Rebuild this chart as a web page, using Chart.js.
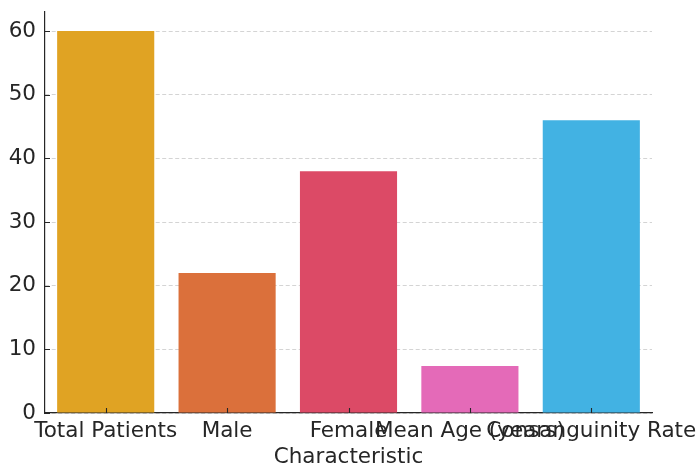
<!DOCTYPE html>
<html>
<head>
<meta charset="utf-8">
<script src="https://cdn.jsdelivr.net/npm/chart.js@4/dist/chart.umd.min.js"></script>
<style>
  html, body { margin: 0; padding: 0; background: #fff; }
  #wrap { width: 700px; height: 468px; }
</style>
</head>
<body>
<div id="wrap"><canvas id="c" width="700" height="468"></canvas></div>
<script>
// Patient cohort characteristics
const categories = ['Total Patients', 'Male', 'Female', 'Mean Age (years)', 'Consanguinity Rate'];
const values = [60, 22, 38, 7.4, 46];
const barColors = ['#E0A323', '#DB703B', '#DC4A66', '#E46AB8', '#42B2E3'];
const yTicks = [0, 10, 20, 30, 40, 50, 60];

const FONT = 'DejaVu Sans';
const INK = '#262626';
const FS = 21.5;

// Short tick marks pointing into the plot area
const innerTicks = {
  id: 'innerTicks',
  afterDatasetsDraw(chart) {
    const { ctx, chartArea, scales } = chart;
    ctx.save();
    ctx.strokeStyle = INK;
    ctx.lineWidth = 1.1;
    ctx.beginPath();
    scales.y.ticks.forEach(t => {
      const y = Math.round(scales.y.getPixelForValue(t.value)) + 0.5;
      ctx.moveTo(chartArea.left, y);
      ctx.lineTo(chartArea.left + 5, y);
    });
    categories.forEach((_, i) => {
      const x = Math.round(scales.x.getPixelForValue(i)) + 0.5;
      ctx.moveTo(x, chartArea.bottom);
      ctx.lineTo(x, chartArea.bottom - 5);
    });
    ctx.stroke();
    ctx.restore();
  }
};

new Chart(document.getElementById('c'), {
  type: 'bar',
  data: {
    labels: categories,
    datasets: [{
      data: values,
      backgroundColor: barColors,
      borderWidth: 0,
      barPercentage: 0.8,
      categoryPercentage: 1.0
    }]
  },
  options: {
    responsive: false,
    animation: false,
    devicePixelRatio: 1,
    layout: { padding: { top: 12, right: 48, left: 0, bottom: 0 } },
    plugins: {
      legend: { display: false },
      tooltip: { enabled: false }
    },
    scales: {
      x: {
        type: 'category',
        offset: true,
        grid: { display: false, drawTicks: false },
        border: { display: true, color: INK, width: 1.2 },
        ticks: {
          autoSkip: false,
          maxRotation: 0,
          minRotation: 0,
          padding: 8,
          color: INK,
          font: { family: FONT, size: FS, lineHeight: 1.0 }
        },
        title: {
          display: true,
          text: 'Characteristic',
          color: INK,
          font: { family: FONT, size: FS, lineHeight: 1.0 },
          padding: { top: 7, bottom: 0 }
        },
        afterFit(scale) {
          scale.height = 55;
          scale.paddingLeft = 0;
          scale.paddingRight = 0;
        }
      },
      y: {
        min: 0,
        max: 63,
        afterBuildTicks(scale) {
          scale.ticks = yTicks.map(v => ({ value: v }));
        },
        grid: {
          color: '#cfcfcf',
          lineWidth: 0.9,
          drawTicks: false
        },
        border: { display: true, color: INK, width: 1.2, dash: [4, 2.5] },
        ticks: {
          padding: 9,
          color: INK,
          font: { family: FONT, size: FS, lineHeight: 1.0 }
        },
        afterFit(scale) {
          scale.width = 45;
          scale.paddingTop = 0;
          scale.paddingBottom = 0;
        }
      }
    }
  },
  plugins: [innerTicks]
});
</script>
</body>
</html>
